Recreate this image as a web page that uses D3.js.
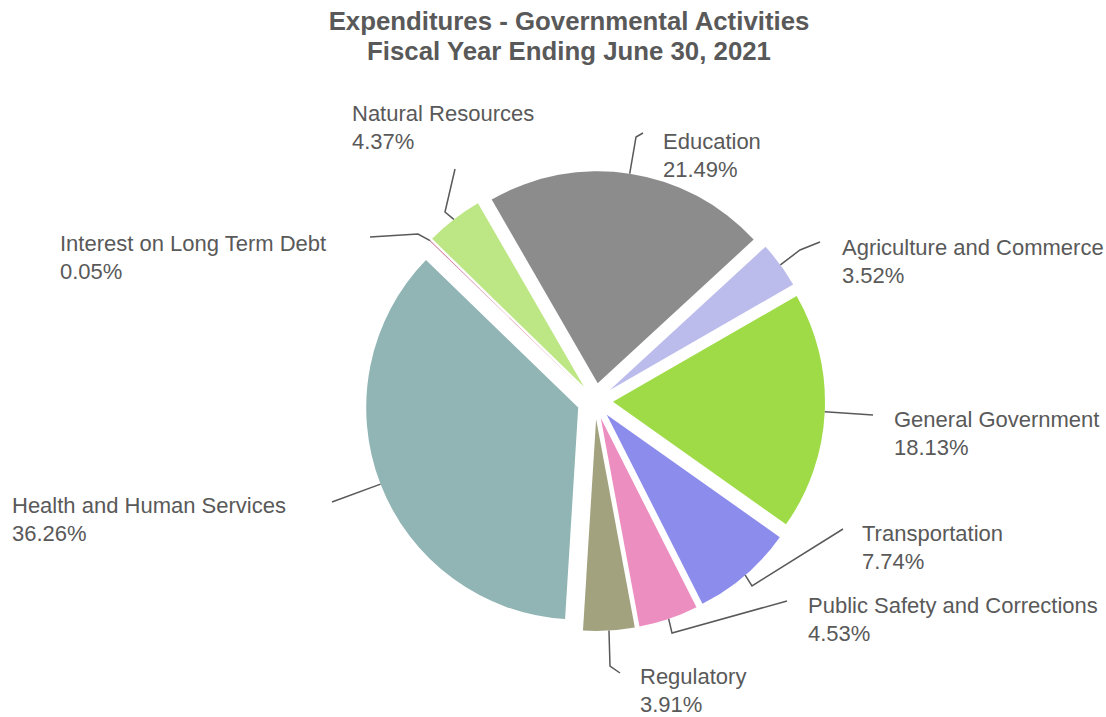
<!DOCTYPE html>
<html>
<head>
<meta charset="utf-8">
<script src="https://cdn.jsdelivr.net/npm/d3@7"></script>
<style>
  html, body { margin: 0; padding: 0; background: #ffffff; }
  svg { display: block; }
</style>
</head>
<body>
<svg id="chart" width="1106" height="717"></svg>
<script>
// ---- data ----
const categories = [
  "Education",
  "Agriculture and Commerce",
  "General Government",
  "Transportation",
  "Public Safety and Corrections",
  "Regulatory",
  "Health and Human Services",
  "Interest on Long Term Debt",
  "Natural Resources"
];
const values = [21.49, 3.52, 18.13, 7.74, 4.53, 3.91, 36.26, 0.05, 4.37];
const colors = ["#8c8c8c", "#bcbcec", "#9edb46", "#8c8cec", "#ec8ec0", "#a2a27f", "#91b4b4", "#c0507f", "#bde685"];
const titleLines = ["Expenditures - Governmental Activities", "Fiscal Year Ending June 30, 2021"];

// ---- layout (label anchor and leader elbow / end points) ----
const labelPos = [
  {x: 663, y: 149, pts: [[636, 137], [643, 133]]},
  {x: 842, y: 255, pts: [[800, 250], [820, 242]]},
  {x: 894, y: 427, pts: [[873, 415]]},
  {x: 862, y: 541, pts: [[752, 586], [843, 529]]},
  {x: 808, y: 613, pts: [[672, 633], [787, 601]]},
  {x: 640, y: 684, pts: [[610, 666], [620, 673]]},
  {x: 12,  y: 513, pts: [[332, 502]]},
  {x: 60,  y: 251, pts: [[418, 234], [370, 237]]},
  {x: 352, y: 121, pts: [[445, 212], [455, 169]]}
];

const cx = 595, cy = 401, R = 212, explode = 18;
const textColor = "#595959";

const svg = d3.select("#chart");

// title
svg.append("g").selectAll("text").data(titleLines).join("text")
  .attr("x", 569).attr("y", (d, i) => 30 + i * 30)
  .attr("text-anchor", "middle")
  .attr("font-family", "Liberation Sans, Arial, sans-serif")
  .attr("font-size", 25.8).attr("font-weight", "bold")
  .attr("fill", textColor)
  .text(d => d);

const pie = d3.pie().sort(null).value(d => d.v)
  .startAngle(-Math.PI / 6).endAngle(2 * Math.PI - Math.PI / 6);
const data = categories.map((c, i) => ({c, v: values[i], color: colors[i], lp: labelPos[i]}));
const arcs = pie(data);
const arc = d3.arc().innerRadius(0).outerRadius(R);

const mid = a => (a.startAngle + a.endAngle) / 2;
const dirOf = a => [Math.sin(mid(a)), -Math.cos(mid(a))];

const g = svg.append("g").attr("transform", `translate(${cx},${cy})`);
g.selectAll("path.slice").data(arcs).join("path")
  .attr("class", "slice")
  .attr("d", arc)
  .attr("fill", d => d.data.color)
  .attr("transform", d => { const [dx, dy] = dirOf(d); return `translate(${dx * explode},${dy * explode})`; });

// leader lines
const line = d3.line().curve(d3.curveLinear);
svg.append("g").selectAll("path").data(arcs).join("path")
  .attr("d", d => {
    const [dx, dy] = dirOf(d);
    const start = [cx + dx * (R + explode), cy + dy * (R + explode)];
    return line([start, ...d.data.lp.pts]);
  })
  .attr("fill", "none").attr("stroke", textColor).attr("stroke-width", 1.5);

// labels
const lbl = svg.append("g").selectAll("text").data(arcs).join("text")
  .attr("font-family", "Liberation Sans, Arial, sans-serif")
  .attr("font-size", 22).attr("fill", textColor);
lbl.append("tspan").attr("x", d => d.data.lp.x).attr("y", d => d.data.lp.y).text(d => d.data.c);
lbl.append("tspan").attr("x", d => d.data.lp.x).attr("y", d => d.data.lp.y + 28)
  .text(d => d3.format(".2f")(d.data.v) + "%");
</script>
</body>
</html>
